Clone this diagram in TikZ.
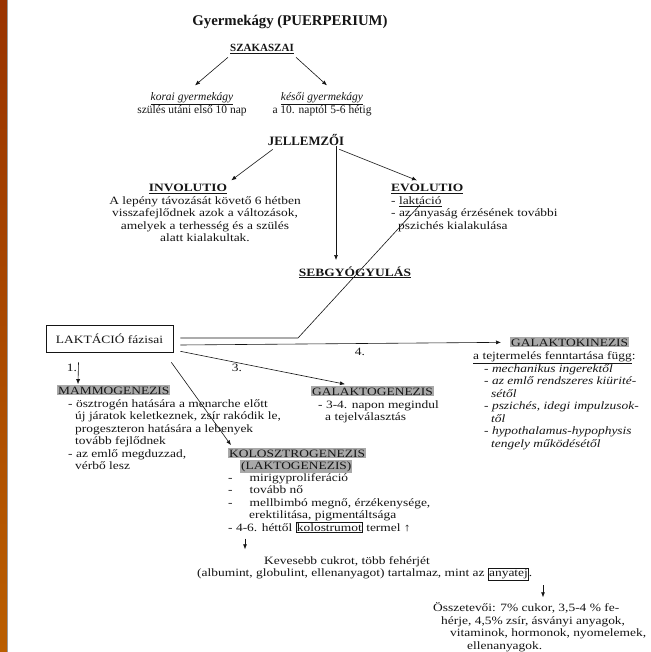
\documentclass[tikz,border=0pt]{standalone}
\usepackage{fontspec}
\setmainfont{Liberation Serif}[FakeStretch=1.2]
\newfontfamily\plainserif{Liberation Serif}
\usepackage{xcolor}
\definecolor{InkBlack}{HTML}{151515}
\definecolor{HlGray}{HTML}{A9A9A9}
\definecolor{StripTop}{HTML}{993300}
\definecolor{StripBot}{HTML}{BA5E00}
\definecolor{EdgeGray}{HTML}{9A9A9A}
\usetikzlibrary{positioning,arrows.meta}
\tikzset{
  txt/.style={font=\fontsize{11.2}{12.5}\selectfont,text=InkBlack,inner sep=0pt,align=left},
  hd/.style={txt,font=\fontsize{11.2}{12.5}\selectfont\bfseries},
  top/.style={txt,font=\plainserif\fontsize{11.5}{12.2}\selectfont},
  hl/.style={txt,fill=HlGray,inner xsep=1pt,inner ysep=1.2pt},
  arr/.style={-{Latex[length=5pt,width=4pt]},draw=InkBlack,line width=0.6pt},
  ln/.style={draw=InkBlack,line width=0.6pt},
}
\newcommand{\ul}[1]{\underline{#1}}
\newcommand{\boxw}[1]{{\setlength{\fboxsep}{0.6pt}\setlength{\fboxrule}{0.5pt}\fbox{#1}}}

\begin{document}
\begin{tikzpicture}[x=1pt,y=-1pt]
\useasboundingbox (0,0) rectangle (650,652);
\fill[white] (0,0) rectangle (650,652);
\shade[top color=StripTop,bottom color=StripBot] (0,0) rectangle (7,652);
\draw[EdgeGray,line width=0.8pt] (7.6,0) -- (7.6,652);

% fejlec
\node[font=\plainserif\fontsize{14.8}{16}\selectfont\bfseries,text=InkBlack,anchor=base]
  (title) at (290,26) {Gyermekágy (PUERPERIUM)};
\node[top,font=\plainserif\fontsize{11}{12}\selectfont\bfseries,anchor=base] (szak) at (262,52) {\ul{SZAKASZAI}};
\node[top,align=center,anchor=north] (korai) at (192,91.4)
  {\strut\ul{\textit{korai gyermekágy}}\\szülés utáni első 10 nap};
\node[top,align=center,anchor=north] (kesoi) at (322,91.4)
  {\strut\ul{\textit{késői gyermekágy}}\\a 10. naptól 5-6 hétig};
\node[top,font=\plainserif\fontsize{12.8}{14}\selectfont\bfseries,anchor=base] (jell) at (306,146) {JELLEMZŐI};

% jellemzoi
\node[hd,anchor=base] (invh) at (188,192) {\ul{INVOLUTIO}};
\node[txt,align=center,anchor=north] (invt) at (205,195.25)
  {\strut A lepény távozását követő 6 hétben\\visszafejlődnek azok a változások,\\
   amelyek a terhesség és a szülés\\alatt kialakultak.};
\node[hd,anchor=base west] (evoh) at (391,192) {\ul{EVOLUTIO}};
\node[txt,anchor=north west] (evol) at (391,195.25)
  {\strut - \ul{laktáció}\\- az anyaság érzésének további\\\hspace*{7pt}pszichés kialakulása};
\node[hd,anchor=base] (seb) at (355,276) {\ul{SEBGYÓGYULÁS}};

% laktacio
\node[txt,draw=InkBlack,line width=0.6pt,minimum width=127pt,minimum height=27pt,align=center]
  (lak) at (109.5,338.5) {LAKTÁCIÓ fázisai};

\node[hl,anchor=base west] (mamh) at (57,394) {MAMMOGENEZIS};
\node[txt,anchor=north west] (maml) at (68,398.25)
  {\strut- ösztrogén hatására a menarche előtt\\
   \hspace*{7pt}új járatok keletkeznek, zsír rakódik le,\\
   \hspace*{7pt}progeszteron hatására a lebenyek\\
   \hspace*{7pt}tovább fejlődnek\\
   - az emlő megduzzad,\\
   \hspace*{7pt}vérbő lesz};

\node[hl,anchor=base west] (gtgh) at (311,395) {GALAKTOGENEZIS};
\node[txt,anchor=north west] (gtgl) at (318,399.25)
  {\strut- 3-4. napon megindul\\\hspace*{7pt}a tejelválasztás};

\node[hl,anchor=base west] (gkinh) at (510,346) {GALAKTOKINEZIS};
\node[txt,anchor=base west] (gkins) at (473,359) {\ul{a tejtermelés fenntartása függ}:};
\node[txt,font=\fontsize{11.2}{12.5}\selectfont\itshape,anchor=north west] (gkinl) at (484,363.25)
  {\strut- mechanikus ingerektől\\
   - az emlő rendszeres kiürité-\\
   \hspace*{7pt}sétől\\
   - pszichés, idegi impulzusok-\\
   \hspace*{7pt}től\\
   - hypothalamus-hypophysis\\
   \hspace*{7pt}tengely működésétől};

\node[hl,anchor=base west] (kolh) at (228,457) {KOLOSZTROGENEZIS};
\node[hl,anchor=base west] (kolh2) at (240,469) {(LAKTOGENEZIS)};
\node[txt,anchor=north west] (koll) at (228,472.25)
  {\strut-\hspace{17pt}mirigyproliferáció\\
   -\hspace{17pt}tovább nő\\
   -\hspace{17pt}mellbimbó megnő, érzékenysége,\\
   \hspace*{21pt}erektilitása, pigmentáltsága\\
   - 4-6. héttől \boxw{kolostrumot} termel ↑};

\node[txt,anchor=north west] (kev) at (197,555.25)
  {\strut\hspace*{67pt}Kevesebb cukrot, több fehérjét\\
   (albumint, globulint, ellenanyagot) tartalmaz, mint az \boxw{anyatej}.};

\node[txt,anchor=north west] (ossz) at (433,602.25)
  {\strut Összetevői: 7\% cukor, 3,5-4 \% fe-\\
   \hspace*{8pt}hérje, 4,5\% zsír, ásványi anyagok,\\
   \hspace*{17pt}vitaminok, hormonok, nyomelemek,\\
   \hspace*{34pt}ellenanyagok.};

% szamok
\node[txt,anchor=base] (n1) at (72,371) {1.};
\node[txt,anchor=base] (n3) at (237,371) {3.};
\node[txt,anchor=base] (n4) at (360,355) {4.};

% nyilak
\coordinate (sebtop) at (336,260);
\coordinate (bend) at (298,338);
\coordinate (evotip) at (420,205);
\draw[arr] ([shift={(-2,3)}]szak.south west) -- ([shift={(3,-6)}]korai.north);
\draw[arr] ([shift={(2,3)}]szak.south east) -- ([shift={(5,-6)}]kesoi.north);
\draw[arr] ([shift={(5,3)}]jell.south west) -- ([shift={(4,-4)}]invh.north east);
\draw[arr] (jell.south -| sebtop) -- (sebtop);
\draw[arr] ([shift={(-5,3)}]jell.south east) -- ([shift={(26,-4)}]evoh.north west);
\draw[ln] ([shift={(7,-0.5)}]lak.east) -- (bend) -- (evotip);
\draw[arr] ([shift={(7,6.5)}]lak.east) -- ([shift={(-9,0)}]gkinh.west);
\draw[arr] ([shift={(7,-1)}]lak.south east) -- ([shift={(34,-2)}]gtgh.north west);
\draw[arr] ([shift={(-2,10)}]lak.south east) -- ([shift={(3,-3)}]kolh.north west);
\draw[arr] ([shift={(-31,10)}]lak.south) -- ([shift={(21,-1)}]mamh.north west);
\draw[arr] ([shift={(17,6)}]koll.south west) -- ([shift={(48,-6)}]kev.north west);
\draw[arr] ([shift={(346,5)}]kev.south west) -- ([shift={(110,-5)}]ossz.north west);
\end{tikzpicture}
\end{document}
